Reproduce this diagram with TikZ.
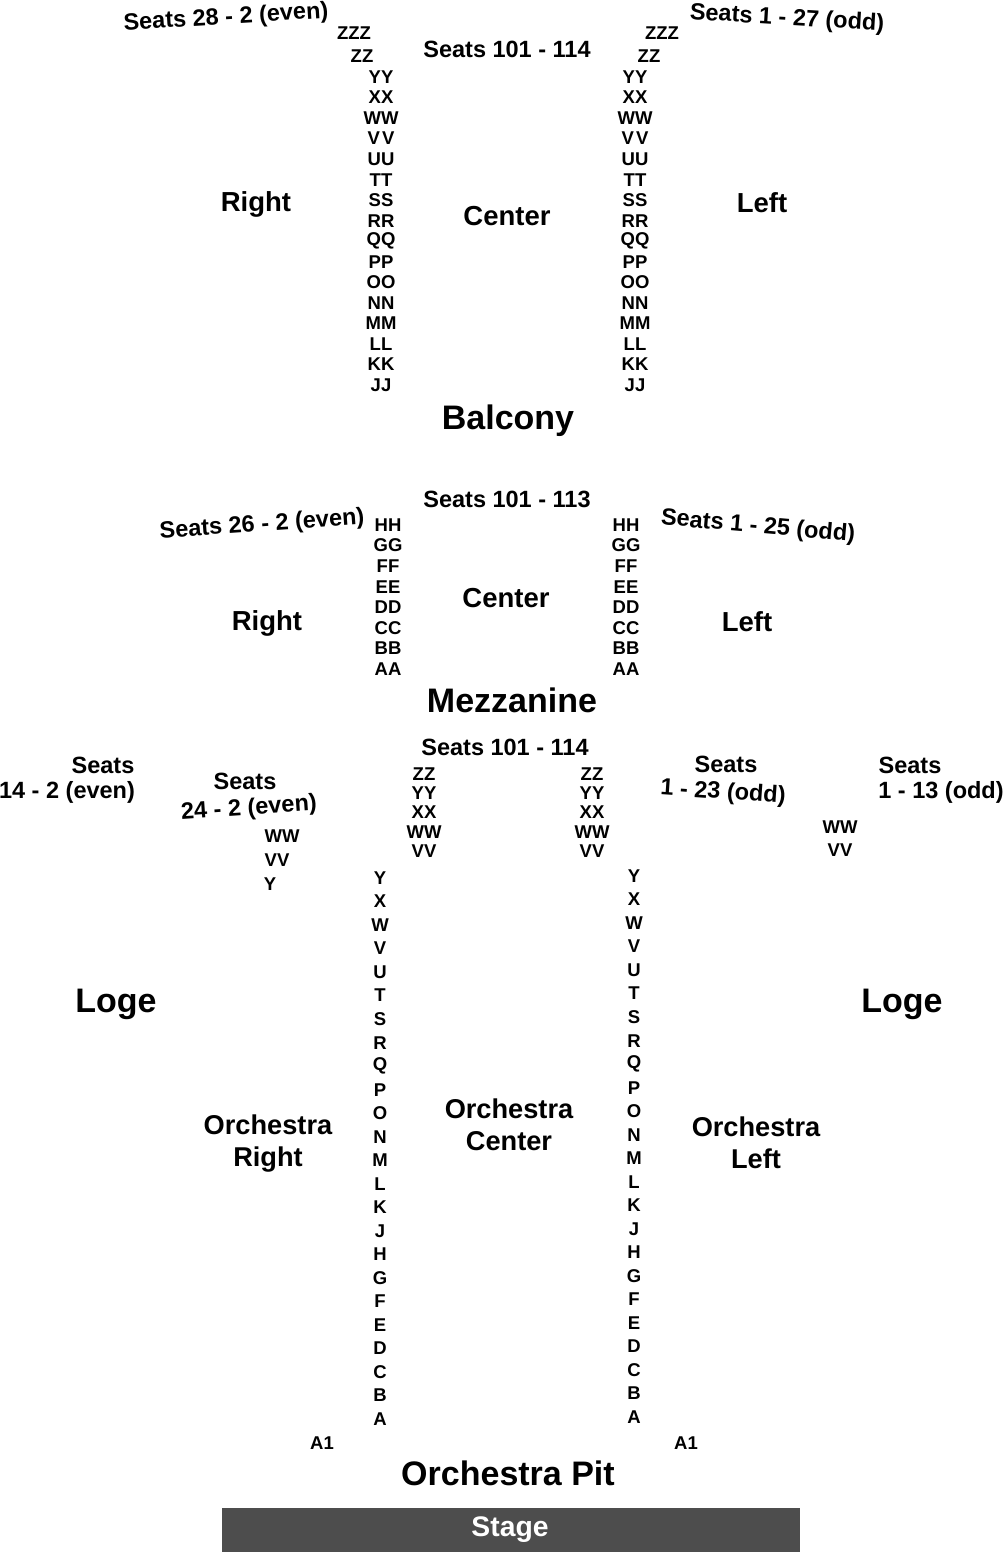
\documentclass[tikz,border=0pt]{standalone}
\usepackage{fontspec}
\setmainfont{Liberation Sans}
\newcommand\fsz[2]{\fontsize{#1}{#2}\selectfont\bfseries}
\definecolor{stagegray}{HTML}{4D4D4D}
\begin{document}
\begin{tikzpicture}[x=1pt,y=-1pt,
  every node/.style={inner sep=0pt, outer sep=0pt},
  row/.style={font=\fsz{18.5}{18.5}},
  seats/.style={font=\fsz{23.5}{23.5}},
  sect/.style={font=\fsz{27.5}{27.5}},
  big/.style={font=\fsz{34}{34}},
  orch/.style={font=\fsz{27.2}{32}, align=center},
]
\useasboundingbox (0,0) rectangle (1004,1552);

% ---------------- Balcony ----------------
\node[seats, rotate=3.5] (b-seats-r) at (226,18) {Seats 28 - 2 (even)};
\node[seats] (b-seats-c) at (507,49) {Seats 101 - 114};
\node[seats, rotate=-3.5] (b-seats-l) at (787,19) {Seats 1 - 27 (odd)};

\node[row] (bl-ZZZ) at (354,33) {ZZZ};
\node[row] (bl-ZZ) at (362,56) {ZZ};
\node[row] (br-ZZZ) at (662,33) {ZZZ};
\node[row] (br-ZZ) at (649,56) {ZZ};
\foreach \r [count=\i from 0] in {YY,XX,WW,V\kern2pt V,UU,TT,SS,RR,QQ,PP,OO,NN,MM,LL,KK,JJ}{
  \node[row] (bl-\i) at (381,{77+20.53*\i}) {\r};
  \node[row] (br-\i) at (635,{77+20.53*\i}) {\r};
}
\node[sect] (b-right) at (256,204) {Right};
\node[sect] (b-center) at (507,216) {Center};
\node[sect] (b-left) at (762,203) {Left};
\node[big] (balcony) at (508,421) {Balcony};

% ---------------- Mezzanine ----------------
\node[seats] (m-seats-c) at (507,499) {Seats 101 - 113};
\node[seats, rotate=4] (m-seats-r) at (262,525) {Seats 26 - 2 (even)};
\node[seats, rotate=-5] (m-seats-l) at (758,527) {Seats 1 - 25 (odd)};
\foreach \r [count=\i from 0] in {HH,GG,FF,EE,DD,CC,BB,AA}{
  \node[row] (ml-\i) at (388,{525+20.57*\i}) {\r};
  \node[row] (mr-\i) at (626,{525+20.57*\i}) {\r};
}
\node[sect] (m-right) at (267,623) {Right};
\node[sect] (m-center) at (506,598) {Center};
\node[sect] (m-left) at (747,622) {Left};
\node[big] (mezzanine) at (512,700) {Mezzanine};

% ---------------- Orchestra / Loge ----------------
\node[seats] (o-seats-c) at (505,747) {Seats 101 - 114};
\foreach \r [count=\i from 0] in {ZZ,YY,XX,WW,VV}{
  \node[row] (ol-\i) at (424,{774+19.3*\i}) {\r};
  \node[row] (or-\i) at (592,{774+19.3*\i}) {\r};
}
\node[seats] (lr-seats1) at (103,765) {Seats};
\node[seats] (lr-seats2) at (67,792) {14 - 2 (even)};
\node[seats] (orr-seats1) at (245,781) {Seats};
\node[seats, rotate=4] (orr-seats2) at (249,809) {24 - 2 (even)};
\node[row] (orr-WW) at (282,836) {WW};
\node[row] (orr-VV) at (277,860) {VV};
\node[row] (orr-Y) at (270,884) {Y};

\node[seats] (orl-seats1) at (726,764) {Seats};
\node[seats, rotate=-4] (orl-seats2) at (723,793) {1 - 23 (odd)};
\node[seats] (ll-seats1) at (910,765) {Seats};
\node[seats] (ll-seats2) at (941,792) {1 - 13 (odd)};
\node[row] (ll-WW) at (840,827) {WW};
\node[row] (ll-VV) at (840,850) {VV};

\foreach \r [count=\i from 0] in {Y,X,W,V,U,T,S,R,Q,P,O,N,M,L,K,J,H,G,F,E,D,C,B,A}{
  \node[row] (oal-\i) at (380,{878+23.52*\i}) {\r};
  \node[row] (oar-\i) at (634,{876+23.52*\i}) {\r};
}
\node[big] (loge-r) at (116,1004) {Loge};
\node[big] (loge-l) at (902,1004) {Loge};
\node[orch] (orch-r) at (268,1144) {Orchestra\\Right};
\node[orch] (orch-c) at (509,1125) {Orchestra\\Center};
\node[orch] (orch-l) at (756,1143) {Orchestra\\Left};

\node[row] (a1-r) at (322,1443) {A1};
\node[row] (a1-l) at (686,1443) {A1};
\node[big] (pit) at (508,1473) {Orchestra Pit};

\fill[stagegray] (222,1508) rectangle (800,1552);
\node[font=\fsz{28.3}{28.3}, text=white] (stage) at (510,1530) {Stage};
\end{tikzpicture}
\end{document}
